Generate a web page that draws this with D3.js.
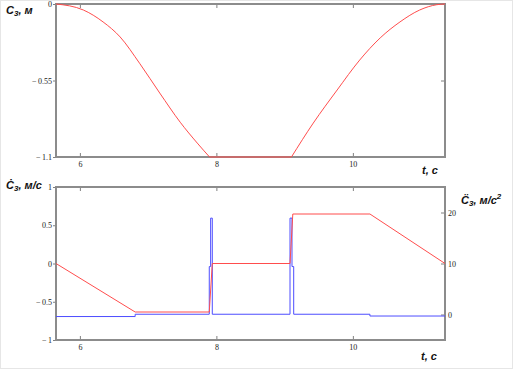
<!DOCTYPE html>
<html>
<head>
<meta charset="utf-8">
<title>C3 plots</title>
<script src="https://d3js.org/d3.v7.min.js"></script>
<style>
  body { margin: 0; background: #fff; }
  .tick text { font-family: "Liberation Serif", serif; font-size: 8px; fill: #222; }
  .tick line { stroke: #808080; }
  .ttl { font-family: "Liberation Sans", Arial, sans-serif; font-size: 11px; font-weight: bold; font-style: italic; fill: #111; }
</style>
</head>
<body>
<div id="chart"></div>
<script>
// position C3 (m)
var posT = [5.65, 6.05, 6.34, 6.59, 6.88, 7.17, 7.47, 7.72, 7.9, 9.1, 9.42, 9.77, 10.10, 10.40, 10.69, 10.98, 11.23, 11.35];
var posC = [0, -0.043, -0.129, -0.237, -0.43, -0.64, -0.85, -1.0, -1.1, -1.1, -0.856, -0.618, -0.403, -0.244, -0.129, -0.043, -0.005, 0];
// velocity (m/s)
var velT = [5.65, 6.81, 7.896, 7.94, 9.079, 9.12, 10.25, 11.35];
var velV = [0, -0.634, -0.634, 0, 0, 0.647, 0.647, 0];
// acceleration (m/s^2)
var accT = [5.65, 6.81, 6.81, 7.896, 7.896, 7.916, 7.916, 7.94, 7.94, 9.079, 9.079, 9.108, 9.108, 9.133, 9.133, 10.25, 10.25, 11.35];
var accV = [-0.4, -0.4, 0.05, 0.05, 9.4, 9.4, 18.9, 18.9, 0.05, 0.05, 18.9, 18.9, 9.4, 9.4, 0.05, 0.05, -0.3, -0.3];

var xTicks = [6, 8, 10];
var posTicks = [0, -0.55, -1.1];
var velTicks = [1, 0.5, 0, -0.5, -1];
var accTicks = [0, 10, 20];

const width = 513, height = 369;
const L = 56, R = 445;
const top1 = 4, bot1 = 157, top2 = 187, bot2 = 340;

var fmt = function(d) { return d < 0 ? "\u2212\u2009" + Math.abs(d) : String(d); };

const svg = d3.select("#chart").append("svg")
  .attr("width", width).attr("height", height);

svg.append("rect").attr("x", 0.5).attr("y", 0.5).attr("width", width - 1).attr("height", height - 1)
  .attr("fill", "#fff").attr("stroke", "#e6e6e6");

var x = d3.scaleLinear().domain([5.65, 11.35]).range([L, R]);
var y1 = d3.scaleLinear().domain([-1.1, 0]).range([bot1, top1]);
var yL = d3.scaleLinear().domain([-1, 1]).range([bot2, top2]);
var yR = d3.scaleLinear().domain([-5, 25]).range([bot2, top2]);

function frame(t, b) {
  svg.append("g").attr("transform", "translate(0," + b + ")")
    .call(d3.axisBottom(x).tickValues(xTicks).tickSize(-4).tickPadding(4).tickFormat(d3.format("d")))
    .call(g => g.select(".domain").remove());
  svg.append("g").attr("transform", "translate(0," + t + ")")
    .call(d3.axisTop(x).tickValues(xTicks).tickSize(-4).tickFormat(""))
    .call(g => g.select(".domain").remove());
}

// top panel
frame(top1, bot1);
svg.append("g").attr("transform", "translate(" + L + ",0)")
  .call(d3.axisLeft(y1).tickValues(posTicks).tickSize(3).tickPadding(1).tickFormat(fmt))
  .call(g => g.select(".domain").remove());
svg.append("g").attr("transform", "translate(" + R + ",0)")
  .call(d3.axisRight(y1).tickValues(posTicks).tickSize(-4).tickFormat(""))
  .call(g => g.select(".domain").remove());
svg.append("rect").attr("x", L).attr("y", top1).attr("width", R - L).attr("height", bot1 - top1)
  .attr("fill", "none").attr("stroke", "#8c8c8c").attr("stroke-width", 2);

var pos = posT.map((t, i) => [t, posC[i]]);
var posLine = d3.line().x(d => x(d[0])).y(d => y1(d[1])).curve(d3.curveMonotoneX);
// falling part, flat bottom, rising part
[pos.slice(0, 9), pos.slice(8, 10), pos.slice(9)].forEach(function(seg) {
  svg.append("path").datum(seg)
    .attr("fill", "none").attr("stroke", "#ff4d4d").attr("stroke-width", 1)
    .attr("d", posLine);
});

// bottom panel
frame(top2, bot2);
svg.append("g").attr("transform", "translate(" + L + ",0)")
  .call(d3.axisLeft(yL).tickValues(velTicks).tickSize(3).tickPadding(1).tickFormat(fmt))
  .call(g => g.select(".domain").remove());
svg.append("g").attr("transform", "translate(" + R + ",0)")
  .call(d3.axisRight(yR).tickValues(accTicks).tickSize(-4).tickPadding(3))
  .call(g => g.select(".domain").remove());
svg.append("rect").attr("x", L).attr("y", top2).attr("width", R - L).attr("height", bot2 - top2)
  .attr("fill", "none").attr("stroke", "#8c8c8c").attr("stroke-width", 2);

var acc = accT.map((t, i) => [t, accV[i]]);
svg.append("path").datum(acc)
  .attr("fill", "none").attr("stroke", "#4d4dff").attr("stroke-width", 1)
  .attr("d", d3.line().x(d => x(d[0])).y(d => yR(d[1])));

var vel = velT.map((t, i) => [t, velV[i]]);
svg.append("path").datum(vel)
  .attr("fill", "none").attr("stroke", "#ff4d4d").attr("stroke-width", 1)
  .attr("d", d3.line().x(d => x(d[0])).y(d => yL(d[1])));

// titles
var t1 = svg.append("text").attr("class", "ttl").attr("x", 6).attr("y", 14);
t1.append("tspan").text("C");
t1.append("tspan").attr("font-size", 8).attr("dy", 2).text("3");
t1.append("tspan").attr("dy", -2).text(", м");

var t2 = svg.append("text").attr("class", "ttl").attr("x", 6).attr("y", 189);
t2.append("tspan").text("C\u0307");
t2.append("tspan").attr("font-size", 8).attr("dy", 2).text("3");
t2.append("tspan").attr("dy", -2).text(", м/с");

var t3 = svg.append("text").attr("class", "ttl").attr("x", 461).attr("y", 204);
t3.append("tspan").text("C\u0308");
t3.append("tspan").attr("font-size", 8).attr("dy", 2).text("3");
t3.append("tspan").attr("dy", -2).text(", м/с");
t3.append("tspan").attr("font-size", 8).attr("dy", -5).text("2");

svg.append("text").attr("class", "ttl").attr("x", 422).attr("y", 174).text("t, с");
svg.append("text").attr("class", "ttl").attr("x", 421).attr("y", 360).text("t, с");
</script>
</body>
</html>
